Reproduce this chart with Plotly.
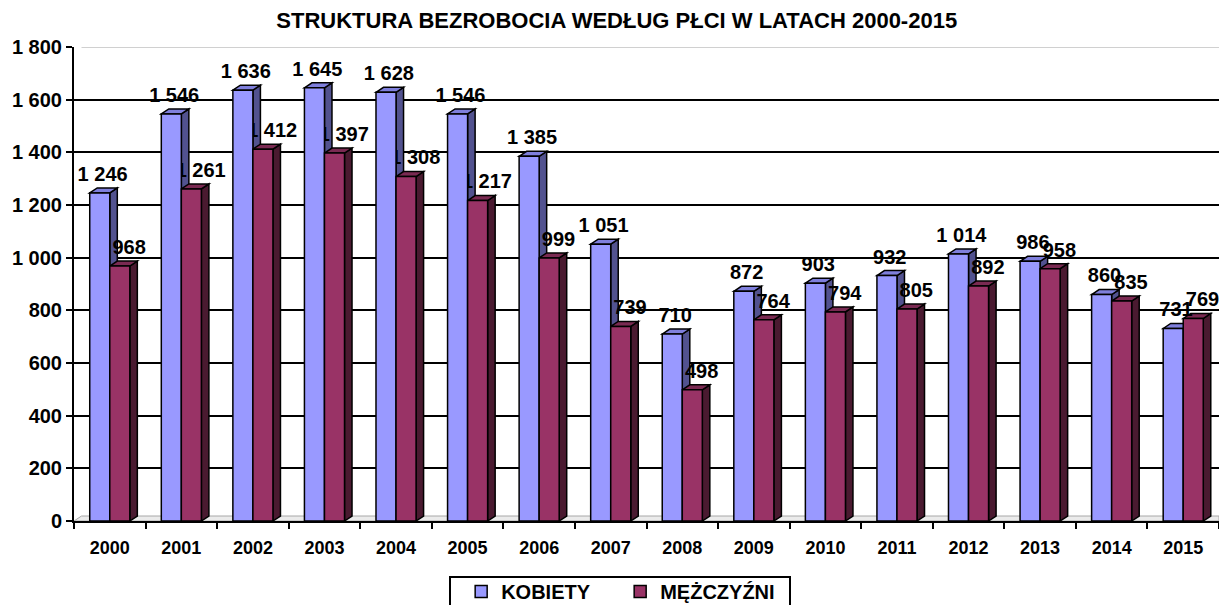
import plotly.graph_objects as go

# ---- data -------------------------------------------------------------
years = ["2000", "2001", "2002", "2003", "2004", "2005", "2006", "2007",
         "2008", "2009", "2010", "2011", "2012", "2013", "2014", "2015"]
kobiety = [1246, 1546, 1636, 1645, 1628, 1546, 1385, 1051,
           710, 872, 903, 932, 1014, 986, 860, 731]
mezczyzni = [968, 1261, 1412, 1397, 1308, 1217, 999, 739,
             498, 764, 794, 805, 892, 958, 835, 769]
y_tick_vals = [0, 200, 400, 600, 800, 1000, 1200, 1400, 1600, 1800]
title_text = "STRUKTURA BEZROBOCIA WEDŁUG PŁCI W LATACH 2000-2015"

# ---- styling / geometry constants ------------------------------------
FONT = "Liberation Sans, Arial, sans-serif"
BAR_W = 0.28      # bar width in category units
DX = 0.105        # 3D depth, horizontal (category units)
DY = 19           # 3D depth, vertical (value units)
LABEL_DY = 80     # label offset above bar front top (value units)
FIG_W, FIG_H = 1219, 605

series = [
    dict(name="KOBIETY", values=kobiety, offset=-BAR_W, label_dx=0.04,
         front="#9999FF", top="#7f7fdc", side="#52528f"),
    dict(name="MĘŻCZYŹNI", values=mezczyzni, offset=0.0, label_dx=0.13,
         front="#993366", top="#7a2a52", side="#4a1a30"),
]

xs = list(range(len(years)))
fig = go.Figure()

for s in series:
    fig.add_trace(go.Bar(
        x=xs, y=s["values"], name=s["name"],
        width=BAR_W, offset=s["offset"],
        marker=dict(color=s["front"], line=dict(color="black", width=1.5)),
        hoverinfo="y",
    ))

shapes = []
# floor of the 3D box
shapes.append(dict(
    type="path", xref="x", yref="y", layer="between",
    path=f"M -0.5,0 L {-0.5 + DX},{DY} L 15.5,{DY} L 15.5,0 Z",
    fillcolor="#ebebeb", line=dict(color="#a8a8a8", width=1),
))
# top edge of back wall (light gray)
shapes.append(dict(
    type="line", xref="x", yref="y", layer="between",
    x0=-0.5 + DX, x1=15.5, y0=1800, y1=1800,
    line=dict(color="#d0d0d0", width=2),
))

# 3D side and top faces
for i in xs:
    for s in series:
        v = s["values"][i]
        x0 = i + s["offset"]
        x1 = x0 + BAR_W
        shapes.append(dict(
            type="path", xref="x", yref="y", layer="between",
            path=f"M {x1},0 L {x1},{v} L {x1 + DX},{v + DY} L {x1 + DX},{DY} Z",
            fillcolor=s["side"], line=dict(color="black", width=1.5),
        ))
        shapes.append(dict(
            type="path", xref="x", yref="y", layer="between",
            path=f"M {x0},{v} L {x0 + DX},{v + DY} L {x1 + DX},{v + DY} L {x1},{v} Z",
            fillcolor=s["top"], line=dict(color="black", width=1.5),
        ))

# data labels (drawn behind the bar fronts, like the 3D original)
for s in series:
    for i, v in zip(xs, s["values"]):
        xc = i + s["offset"] + BAR_W / 2 + s["label_dx"]
        yc = v + LABEL_DY
        shapes.append(dict(
            type="rect", xref="x", yref="y", layer="between",
            x0=xc - 0.001, x1=xc + 0.001, y0=yc, y1=yc,
            line=dict(width=0), fillcolor="rgba(0,0,0,0)",
            label=dict(text=f"{v:,}".replace(",", " "),
                       textposition="middle center",
                       font=dict(family=FONT, size=20, color="black",
                                 weight="bold")),
        ))

# legend frame (runs off the bottom edge, as in the original)
shapes.append(dict(
    type="rect", xref="paper", yref="paper", layer="above",
    x0=(450 - 74) / 1145, x1=(790 - 74) / 1145,
    y0=(521 - 577) / 474, y1=(521 - 620) / 474,
    fillcolor="rgba(0,0,0,0)", line=dict(color="black", width=2),
))

fig.update_layout(
    width=FIG_W, height=FIG_H,
    margin=dict(l=74, r=0, t=47, b=84, autoexpand=False),
    paper_bgcolor="white", plot_bgcolor="white",
    barmode="overlay",
    separators=", ",
    font=dict(family=FONT, color="black", weight="bold"),
    title=dict(text=title_text, x=0.474, xref="paper", xanchor="center",
               y=1 - 20 / FIG_H, yanchor="middle",
               font=dict(family=FONT, size=22, color="black", weight="bold")),
    shapes=shapes,
    showlegend=True,
    legend=dict(orientation="h", x=0.477, xanchor="center",
                y=(521 - 572) / 474, yanchor="top",
                bgcolor="rgba(0,0,0,0)", borderwidth=0,
                entrywidth=114, entrywidthmode="pixels",
                font=dict(family=FONT, size=20, color="black", weight="bold"),
                traceorder="normal"),
)

fig.update_xaxes(
    type="linear", range=[-0.5, 15.5], automargin=False,
    tickmode="array", tickvals=xs, ticktext=years,
    ticks="outside", ticklen=9, tickcolor="rgba(0,0,0,0)",
    tickfont=dict(family=FONT, size=18, color="black", weight="bold"),
    showline=True, linecolor="black", linewidth=2,
    showgrid=False, zeroline=False,
    minor=dict(tickmode="linear", tick0=-0.5, dtick=1, ticks="outside",
               ticklen=6, tickwidth=2, tickcolor="black", showgrid=False),
)
fig.update_yaxes(
    range=[0, 1800], automargin=False,
    tickmode="array", tickvals=y_tick_vals,
    tickformat=",d",
    ticks="outside", ticklen=6, tickwidth=2, tickcolor="black",
    tickfont=dict(family=FONT, size=20, color="black", weight="bold"),
    showline=True, linecolor="black", linewidth=2,
    showgrid=True, gridcolor="black", gridwidth=2,
    zeroline=False,
)

# remove the browser's default 8px body margin so the figure fills the window
fig.write_html(
    "out.html",
    config={"displayModeBar": False},
    post_script="document.body.style.margin='0';"
                "document.body.style.overflow='hidden';",
)
